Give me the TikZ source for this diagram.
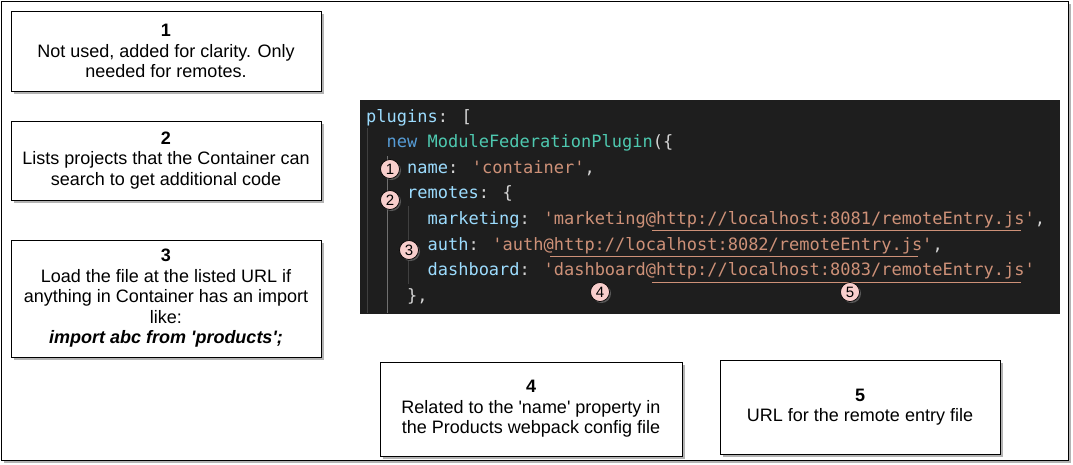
\documentclass[tikz,border=0pt]{standalone}
\usepackage{fontspec}
\setmainfont{Liberation Sans}
\newfontfamily\codefont{DejaVu Sans Mono}
\usetikzlibrary{shadows,calc}
\definecolor{cbg}{HTML}{1E1E1E}
\definecolor{cpunct}{HTML}{D4D4D4}
\definecolor{cvar}{HTML}{9CDCFE}
\definecolor{ckw}{HTML}{569CD6}
\definecolor{ccls}{HTML}{4EC9B0}
\definecolor{cstr}{HTML}{CE9178}
\definecolor{cguide}{HTML}{404040}
\definecolor{cguideact}{HTML}{707070}
\definecolor{cbadge}{HTML}{F8CECC}
\definecolor{cshadow}{HTML}{B3B3B3}
\tikzset{
  note/.style={draw=black, line width=0.9pt, fill=white, align=center,
    font=\fontsize{18}{20.5}\selectfont, inner sep=0pt,
    drop shadow={shadow xshift=3pt, shadow yshift=-3pt, fill=cshadow, opacity=1}},
  codeline/.style={anchor=base west, inner sep=0pt, text=cpunct,
    font=\codefont\fontsize{17}{20}\selectfont},
  badge/.style={circle, draw=black, line width=0.7pt, fill=cbadge, minimum size=19pt,
    inner sep=0pt, font=\fontsize{15}{15}\selectfont,
    drop shadow={shadow xshift=1.5pt, shadow yshift=-1.5pt, fill=black!60, opacity=0.8}},
  guide/.style={draw=cguide, line width=1pt},
  guideact/.style={draw=cguideact, line width=1pt},
  urlline/.style={draw=cstr, line width=1pt},
}
\newcommand\V[1]{\textcolor{cvar}{#1}}
\newcommand\K[1]{\textcolor{ckw}{#1}}
\newcommand\C[1]{\textcolor{ccls}{#1}}
\newcommand\Str[1]{\textcolor{cstr}{#1}}
\newcommand\q{\textquotesingle}
\begin{document}
\begin{tikzpicture}[x=1pt, y=-1pt]
\useasboundingbox (0,0) rectangle (1073,464);
% outer frame
\node[draw=black, line width=0.9pt, fill=white, inner sep=0pt, anchor=north west,
  minimum width=1067pt, minimum height=459pt,
  drop shadow={shadow xshift=3pt, shadow yshift=-3pt, fill=cshadow, opacity=1}]
  (frame) at (1,1) {};
% code panel
\node[fill=cbg, inner sep=0pt, anchor=north west, minimum width=700pt, minimum height=214pt]
  (panel) at (360,100) {};
\pgfmathsetmacro{\cw}{10.23}
\pgfmathsetmacro{\xo}{366}
% indent guides
\draw[guide] (367,128) -- (367,313);
\draw[guideact] (387,156) -- (387,313);
\draw[guide] (408,206) -- (408,284);
% code lines
\node[codeline] (l1) at (\xo,122) {\V{plugins}: [};
\node[codeline] (l2) at (\xo+2*\cw,147.6) {\K{new} \C{ModuleFederationPlugin}(\{};
\node[codeline] (l3) at (\xo+4*\cw,173.2) {\V{name}: \Str{\q container\q},};
\node[codeline] (l4) at (\xo+4*\cw,198.8) {\V{remotes}: \{};
\node[codeline] (l5) at (\xo+6*\cw,224.4) {\V{marketing}: \Str{\q marketing@http://localhost:8081/remoteEntry.js\q},};
\node[codeline] (l6) at (\xo+6*\cw,250) {\V{auth}: \Str{\q auth@http://localhost:8082/remoteEntry.js\q},};
\node[codeline] (l7) at (\xo+6*\cw,275.6) {\V{dashboard}: \Str{\q dashboard@http://localhost:8083/remoteEntry.js\q}};
\node[codeline] (l8) at (\xo+4*\cw,301) {\},};
% url underlines
\draw[urlline] ($(l5.base west)+(22*\cw,6.5)$) -- ($(l5.base west)+(58*\cw,6.5)$);
\draw[urlline] ($(l6.base west)+(12*\cw,6.5)$) -- ($(l6.base west)+(48*\cw,6.5)$);
\draw[urlline] ($(l7.base west)+(22*\cw,6.5)$) -- ($(l7.base west)+(58*\cw,6.5)$);
% badges
\node[badge] (c1) at (390,169) {1};
\node[badge] (c2) at (390,200) {2};
\node[badge] (c3) at (409,250) {3};
\node[badge] (c4) at (600,292) {4};
\node[badge] (c5) at (850,292) {5};
% notes
\node[note, minimum width=310pt, minimum height=80pt] (b1) at (166,51)
  {\textbf{1}\\Not used, added for clarity. Only\\needed for remotes.};
\node[note, minimum width=310pt, minimum height=79pt] (b2) at (166,160.5)
  {\textbf{2}\\Lists projects that the Container can\\search to get additional code};
\node[note, minimum width=310pt, minimum height=117pt] (b3) at (166,298.5)
  {\textbf{3}\\Load the file at the listed URL if\\anything in Container has an import\\like:\\\textbf{\textit{import abc from \q products\q;}}};
\node[note, minimum width=302pt, minimum height=94pt] (b4) at (531,409)
  {\textbf{4}\\Related to the \q name\q{} property in\\the Products webpack config file};
\node[note, minimum width=280pt, minimum height=94pt] (b5) at (860,407)
  {\textbf{5}\\URL for the remote entry file};
\end{tikzpicture}
\end{document}
